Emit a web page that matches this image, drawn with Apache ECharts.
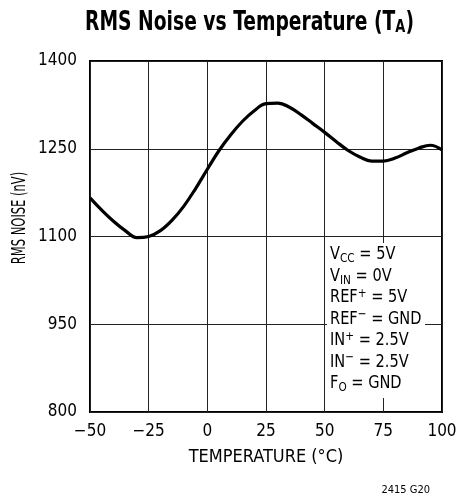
<!DOCTYPE html>
<html><head><meta charset="utf-8">
<script src="https://cdn.jsdelivr.net/npm/echarts@6/dist/echarts.min.js"></script>
<style>html,body{margin:0;padding:0;background:#fff}#c{width:457px;height:500px}</style>
</head><body><div id="c"></div>
<script>
const temps = [-50,-45,-40,-35,-30,-25,-20,-15,-10,-5,0,5,10,15,20,25,30,35,40,45,50,55,60,65,70,75,80,85,90,95,100];
const noise = [1166,1145,1126,1110,1098,1100,1110,1128,1152,1182,1215,1247,1274,1297,1315,1327,1328,1321,1308,1293,1278,1262,1247,1236,1229,1229,1234,1243,1251,1256,1248];
const xTicks = [-50,-25,0,25,50,75,100];
const yTicks = [800,950,1100,1250,1400];
const titleText = 'RMS Noise vs Temperature (T{s|A})';
const xName = 'TEMPERATURE (°C)';
const yName = 'RMS NOISE (nV)';
const notes = [
  '{n|V}{sub|CC}{n| = 5V}',
  '{n|V}{sub|IN}{n| = 0V}',
  '{n|REF}{sup|+}{n| = 5V}',
  '{n|REF}{sup|−}{n| = GND}',
  '{n|IN}{sup|+}{n| = 2.5V}',
  '{n|IN}{sup|−}{n| = 2.5V}',
  '{n|F}{sub|O}{n| = GND}'
];
const figId = '2415 G20';

const FONT = '"DejaVu Sans Condensed","Liberation Sans",sans-serif';
const chart = echarts.init(document.getElementById('c'), null, {renderer:'canvas'});
chart.setOption({
  animation:false,
  backgroundColor:'#fff',
  grid:{left:90,right:15,top:61,bottom:88,show:true,borderColor:'#000',borderWidth:2,containLabel:false,outerBoundsMode:'none'},
  xAxis:{type:'value',min:-50,max:100,interval:25,
    name:xName,nameLocation:'middle',nameGap:36,
    nameTextStyle:{fontFamily:FONT,fontSize:18,color:'#000'},
    axisLine:{show:false},axisTick:{show:false},
    axisLabel:{fontFamily:FONT,fontSize:17,color:'#000',margin:11,
      formatter:v=>xTicks.includes(v)?(v<0?'−'+Math.abs(v):String(v)):''},
    splitLine:{show:true,lineStyle:{color:'#222',width:1}}},
  yAxis:{type:'value',min:800,max:1400,interval:150,
    axisLine:{show:false},axisTick:{show:false},
    axisLabel:{fontFamily:FONT,fontSize:17,color:'#000',margin:13,
      formatter:v=>yTicks.includes(v)?String(v):''},
    splitLine:{show:true,lineStyle:{color:'#222',width:1}}},
  series:[{type:'line',data:temps.map((t,i)=>[t,noise[i]]),smooth:0.4,showSymbol:false,symbol:'none',
    lineStyle:{color:'#000',width:3.2},z:3}],
  graphic:[
    {type:'text',x:249.5,y:23,scaleX:0.8,z:11,style:{
      text:titleText,fontFamily:FONT,fontWeight:'bold',fontSize:26,fill:'#000',align:'center',verticalAlign:'middle',
      rich:{s:{fontFamily:FONT,fontWeight:'bold',fontSize:18,verticalAlign:'bottom',lineHeight:12}}}},
    {type:'text',x:20,y:218,rotation:Math.PI/2,scaleX:0.64,z:11,style:{
      text:yName,fontFamily:FONT,fontSize:20,fill:'#000',align:'center',verticalAlign:'middle'}},
    {type:'rect',shape:{x:327,y:243,width:98,height:155},style:{fill:'#fff'},z:10},
    {type:'text',x:330,y:244,scaleX:0.9,z:11,style:{
      text:notes.join('\n'),
      rich:{
        n:{fontFamily:FONT,fontSize:18,fill:'#000',lineHeight:21.5},
        sub:{fontFamily:FONT,fontSize:13,fill:'#000',lineHeight:12,verticalAlign:'bottom'},
        sup:{fontFamily:FONT,fontSize:13,fill:'#000',lineHeight:12,verticalAlign:'top'}
      }}},
    {type:'text',x:430,y:485,z:11,style:{text:figId,fontFamily:FONT,fontSize:11,fill:'#000',align:'right'}}
  ]
});
</script></body></html>
